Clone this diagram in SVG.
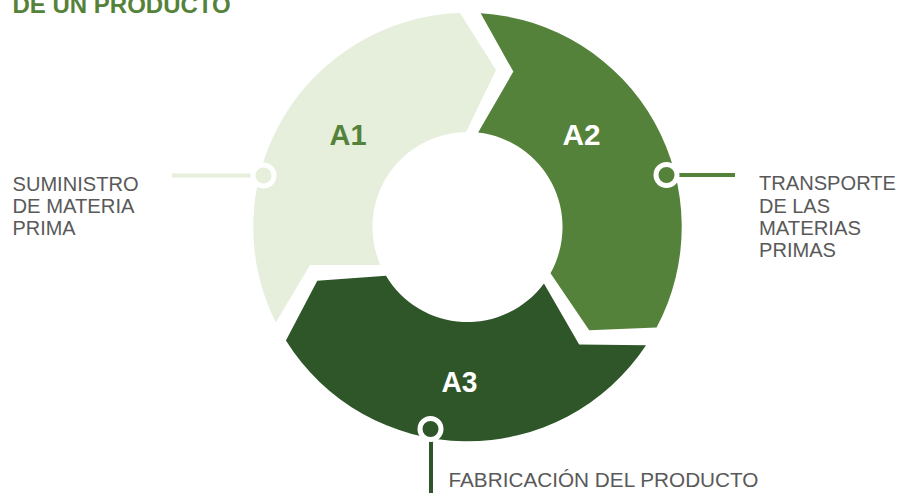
<svg xmlns="http://www.w3.org/2000/svg" width="912" height="498" viewBox="0 0 912 498">
  <style>
    .seg-label { font-family: "Liberation Sans", Arial, sans-serif; font-weight: bold; font-size: 30px; text-anchor: middle; }
    .desc { font-family: "Liberation Sans", Arial, sans-serif; font-size: 20.5px; fill: #595959; }
    .title { font-family: "Liberation Sans", Arial, sans-serif; font-weight: bold; font-size: 24px; fill: #55823a; }
    .dot { stroke: #ffffff; stroke-width: 5; }
    .line { stroke-width: 4; fill: none; }
  </style>
  <defs>
    <path id="seg" d="M 275.8 322.5 A 214 214 0 0 1 460 13 L 496 70 L 466 132 A 95 95 0 0 0 380.4 265 L 310 265 Z"/>
  </defs>
  <rect width="912" height="498" fill="#ffffff"/>
  <text class="title" x="12.5" y="13">DE UN PRODUCTO</text>

  <g id="node-a1">
    <use href="#seg" fill="#e5efdb"/>
    <text class="seg-label" x="348" y="145" fill="#55823a" textLength="37" lengthAdjust="spacingAndGlyphs">A1</text>
  </g>
  <g id="node-a2">
    <use href="#seg" fill="#55823a" transform="rotate(120 467.5 227)"/>
    <text class="seg-label" x="581.5" y="145" fill="#ffffff" textLength="38" lengthAdjust="spacingAndGlyphs">A2</text>
  </g>
  <g id="node-a3">
    <use href="#seg" fill="#2f5629" transform="rotate(240 467.5 227)"/>
    <text class="seg-label" x="459.5" y="392" fill="#ffffff" textLength="36" lengthAdjust="spacingAndGlyphs">A3</text>
  </g>

  <g id="connectors">
    <line class="line" x1="172" y1="175.5" x2="255" y2="175.5" stroke="#e5efdb"/>
    <circle class="dot" cx="263.5" cy="175.5" r="10.5" fill="#e5efdb"/>
    <line class="line" x1="675" y1="175" x2="735" y2="175" stroke="#55823a"/>
    <circle class="dot" cx="666.5" cy="175" r="10.5" fill="#55823a"/>
    <line class="line" x1="431" y1="438" x2="431" y2="493" stroke="#2f5629"/>
    <circle class="dot" cx="430.5" cy="429" r="10.5" fill="#2f5629"/>
  </g>

  <g id="label-a1">
    <text class="desc" x="12.5" y="191" textLength="126" lengthAdjust="spacingAndGlyphs">SUMINISTRO</text>
    <text class="desc" x="12.5" y="212.5" textLength="122" lengthAdjust="spacingAndGlyphs">DE MATERIA</text>
    <text class="desc" x="12.5" y="234.5" textLength="63" lengthAdjust="spacingAndGlyphs">PRIMA</text>
  </g>
  <g id="label-a2">
    <text class="desc" x="759" y="190" textLength="137" lengthAdjust="spacingAndGlyphs">TRANSPORTE</text>
    <text class="desc" x="759" y="212.5" textLength="71" lengthAdjust="spacingAndGlyphs">DE LAS</text>
    <text class="desc" x="759" y="235" textLength="102" lengthAdjust="spacingAndGlyphs">MATERIAS</text>
    <text class="desc" x="759" y="257" textLength="77" lengthAdjust="spacingAndGlyphs">PRIMAS</text>
  </g>
  <g id="label-a3">
    <text class="desc" x="448.5" y="487" textLength="310" lengthAdjust="spacingAndGlyphs">FABRICACIÓN DEL PRODUCTO</text>
  </g>
</svg>
